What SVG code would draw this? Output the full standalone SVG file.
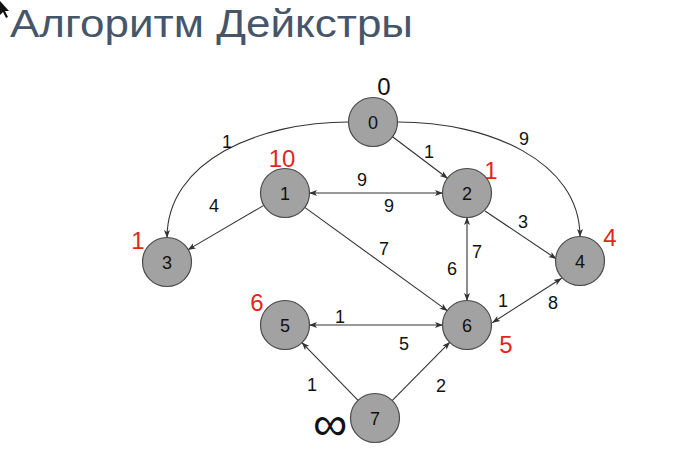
<svg xmlns="http://www.w3.org/2000/svg" width="675" height="452" viewBox="0 0 675 452">
<style>
.node circle{fill:#a2a2a2;stroke:#4a4a4a;stroke-width:1.2}
.node text{font-family:"Liberation Sans",Arial,sans-serif;font-size:18px;fill:#111;text-anchor:middle}
.edge{fill:none;stroke:#333;stroke-width:1.1}
.lbl{font-family:"Liberation Sans",Arial,sans-serif;font-size:18px;fill:#111;text-anchor:middle}
.dist{font-family:"Liberation Sans",Arial,sans-serif;font-size:24px;fill:#e3261b;text-anchor:middle}
.title{font-family:"Liberation Sans",Arial,sans-serif;font-size:39px;fill:#46566a}
</style>
<defs>
<marker id="arr" markerUnits="userSpaceOnUse" markerWidth="10" markerHeight="8" refX="8" refY="3" orient="auto-start-reverse" viewBox="0 0 10 6">
<path d="M0,0 L8,3 L0,6 L2,3 Z" fill="#333"/>
</marker>
</defs>
<rect width="675" height="452" fill="#fff"/>
<polygon points="0,1 0,15 3,12 6,18 8,17 5,11 9,11" fill="#111"/>
<text class="title" x="10" y="37" textLength="403" lengthAdjust="spacingAndGlyphs">Алгоритм Дейкстры</text>

<g id="connectors">
<path class="edge" d="M349,122 C260,122 167,160 167,238" marker-end="url(#arr)"/>
<path class="edge" d="M398,122 C487,122 580,160 580,237" marker-end="url(#arr)"/>
<line class="edge" x1="392.2" y1="136.5" x2="447.8" y2="178.5" marker-end="url(#arr)"/>
<line class="edge" x1="309" y1="193" x2="443" y2="193" marker-start="url(#arr)" marker-end="url(#arr)"/>
<line class="edge" x1="264.3" y1="205.1" x2="187.7" y2="249.9" marker-end="url(#arr)"/>
<line class="edge" x1="304.4" y1="207.1" x2="447.6" y2="310.9" marker-end="url(#arr)"/>
<line class="edge" x1="485" y1="211" x2="556.5" y2="259" marker-end="url(#arr)"/>
<line class="edge" x1="467" y1="217" x2="467" y2="301" marker-start="url(#arr)" marker-end="url(#arr)"/>
<line class="edge" x1="561.7" y1="278.3" x2="492.2" y2="322.8" marker-start="url(#arr)" marker-end="url(#arr)"/>
<line class="edge" x1="309" y1="325" x2="443" y2="325" marker-start="url(#arr)" marker-end="url(#arr)"/>
<line class="edge" x1="358.3" y1="400.7" x2="301.7" y2="342.3" marker-end="url(#arr)"/>
<line class="edge" x1="391.9" y1="400.9" x2="450.1" y2="341.9" marker-end="url(#arr)"/>
<text class="lbl" x="227" y="148">1</text>
<text class="lbl" x="524" y="145">9</text>
<text class="lbl" x="429" y="158">1</text>
<text class="lbl" x="362" y="186">9</text>
<text class="lbl" x="389" y="212">9</text>
<text class="lbl" x="214" y="212">4</text>
<text class="lbl" x="384" y="255">7</text>
<text class="lbl" x="523" y="228">3</text>
<text class="lbl" x="477" y="258">7</text>
<text class="lbl" x="452" y="275">6</text>
<text class="lbl" x="503" y="307">1</text>
<text class="lbl" x="553" y="309">8</text>
<text class="lbl" x="340" y="323">1</text>
<text class="lbl" x="404" y="350">5</text>
<text class="lbl" x="312" y="391">1</text>
<text class="lbl" x="441" y="392">2</text>
</g>

<g id="node0" class="node"><circle cx="373" cy="122" r="24.5"/><text x="373" y="128.5">0</text></g>
<g id="node1" class="node"><circle cx="285" cy="193" r="24.5"/><text x="285" y="199.5">1</text></g>
<g id="node2" class="node"><circle cx="467" cy="193" r="24.5"/><text x="467" y="199.5">2</text></g>
<g id="node3" class="node"><circle cx="167" cy="262" r="24.5"/><text x="167" y="268.5">3</text></g>
<g id="node4" class="node"><circle cx="580" cy="261" r="24.5"/><text x="580" y="267.5">4</text></g>
<g id="node5" class="node"><circle cx="285" cy="325" r="24.5"/><text x="285" y="331.5">5</text></g>
<g id="node6" class="node"><circle cx="467" cy="325" r="24.5"/><text x="467" y="331.5">6</text></g>
<g id="node7" class="node"><circle cx="375" cy="418" r="24.5"/><text x="375" y="424.5">7</text></g>

<g id="distances">
<text class="dist" x="384" y="95" style="fill:#111">0</text>
<text class="dist" x="282" y="167">10</text>
<text class="dist" x="138" y="249">1</text>
<text class="dist" x="491" y="179">1</text>
<text class="dist" x="610" y="246">4</text>
<text class="dist" x="257" y="311">6</text>
<text class="dist" x="506" y="353">5</text>
<text class="dist" x="330" y="440" style="fill:#111;font-size:48px">∞</text>
</g>
</svg>
